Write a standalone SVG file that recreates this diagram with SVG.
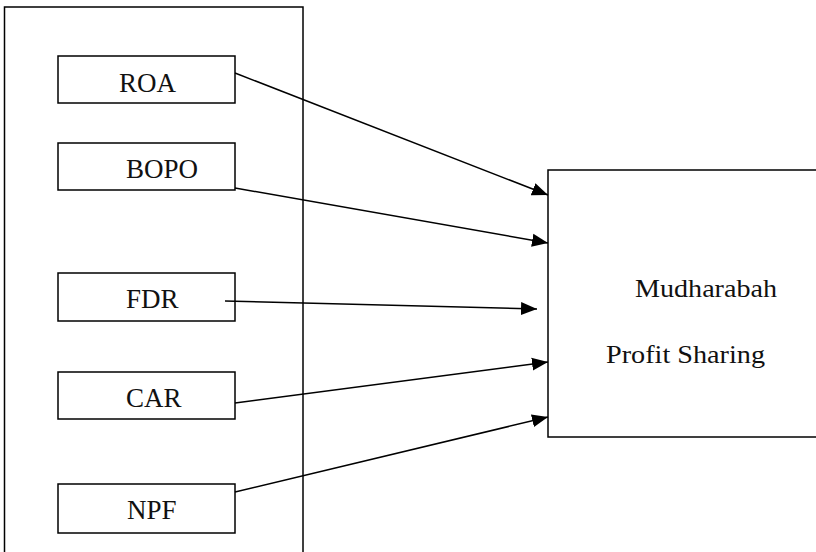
<svg xmlns="http://www.w3.org/2000/svg" width="816" height="552" viewBox="0 0 816 552">
<style>
.box{fill:none;stroke:#000;stroke-width:1.5}
.lbl{font-family:"Liberation Serif","Times New Roman",serif;font-size:27px;fill:#111}
.big{font-family:"Liberation Serif","Times New Roman",serif;font-size:26px;fill:#111}
.con{stroke:#000;stroke-width:1.5;fill:none;marker-end:url(#ah)}
</style>
<defs>
<marker id="ah" markerUnits="userSpaceOnUse" markerWidth="18" markerHeight="14" refX="16" refY="7" orient="auto">
<path d="M0,0.5 L16,7 L0,13.5 Z" fill="#000"/>
</marker>
</defs>
<rect width="816" height="552" fill="#fff"/>
<g id="outer"><rect class="box" x="4.5" y="7" width="298.5" height="560"/></g>
<g id="roa"><rect class="box" x="58" y="56" width="177" height="47"/><text class="lbl" x="119" y="92">ROA</text></g>
<g id="bopo"><rect class="box" x="58" y="143" width="177" height="47"/><text class="lbl" x="126" y="178">BOPO</text></g>
<g id="fdr"><rect class="box" x="58" y="273" width="177" height="48"/><text class="lbl" x="126" y="308">FDR</text></g>
<g id="car"><rect class="box" x="58" y="372" width="177" height="47"/><text class="lbl" x="126" y="407">CAR</text></g>
<g id="npf"><rect class="box" x="58" y="484" width="177" height="49"/><text class="lbl" x="127" y="519">NPF</text></g>
<g id="mudharabah"><rect class="box" x="548" y="170" width="300" height="267"/>
<text class="big" x="635" y="297" textLength="142" lengthAdjust="spacingAndGlyphs">Mudharabah</text>
<text class="big" x="606" y="363" textLength="159" lengthAdjust="spacingAndGlyphs">Profit Sharing</text></g>
<g id="connectors">
<line class="con" x1="235" y1="73" x2="548" y2="195"/>
<line class="con" x1="235" y1="188" x2="548" y2="243"/>
<line class="con" x1="225" y1="301" x2="537" y2="309"/>
<line class="con" x1="235" y1="403" x2="548" y2="362"/>
<line class="con" x1="235" y1="492" x2="548" y2="417"/>
</g>
</svg>
